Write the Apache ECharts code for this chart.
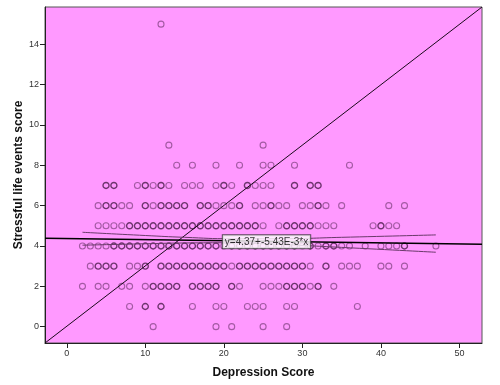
<!DOCTYPE html>
<html>
<head>
<meta charset="utf-8">
<script src="https://cdn.jsdelivr.net/npm/echarts@6/dist/echarts.min.js"></script>
<style>html,body{margin:0;padding:0;background:#fff}#c{width:500px;height:385px}</style>
</head>
<body>
<div id="c"></div>
<script>
// Axis ranges and ticks
const xMin = -2.77, xMax = 52.87;
const yMin = -0.81, yMax = 15.85;
const xTicks = [0, 10, 20, 30, 40, 50];
const yTicks = [0, 2, 4, 6, 8, 10, 12, 14];

// Depression score (x) of each observation, grouped by stressful life events score (y)
const rowY = [0, 1, 2, 3, 4, 5, 6, 7, 8, 9, 15];
const rowX = [
  [11, 19, 21, 25, 28],
  [8, 10, 12, 16, 19, 20, 23, 24, 25, 28, 29, 37],
  [2, 4, 5, 7, 8, 10, 11, 12, 13, 14, 16, 17, 18, 19, 21, 22, 25, 26, 27, 28, 29, 30, 31, 32, 34],
  [3, 4, 5, 6, 8, 9, 10, 12, 13, 14, 15, 16, 17, 18, 19, 20, 21, 22, 23, 24, 25, 26, 27, 28, 29, 30, 31, 33, 35, 36, 37, 40, 41, 43],
  [2, 3, 4, 5, 6, 7, 8, 9, 10, 11, 12, 13, 14, 15, 16, 17, 18, 19, 20, 21, 22, 23, 24, 25, 26, 27, 28, 29, 30, 31, 32, 33, 34, 35, 36, 38, 40, 41, 42, 43, 47],
  [4, 5, 6, 7, 8, 9, 10, 11, 12, 13, 14, 15, 16, 17, 18, 19, 20, 21, 22, 23, 24, 25, 27, 28, 29, 30, 31, 32, 33, 34, 39, 40, 41, 42],
  [4, 5, 6, 7, 8, 10, 11, 12, 13, 14, 15, 17, 18, 19, 20, 21, 22, 24, 25, 26, 27, 28, 30, 31, 32, 33, 35, 41, 43],
  [5, 6, 9, 10, 11, 12, 13, 15, 16, 17, 19, 20, 21, 23, 24, 25, 26, 29, 31, 32],
  [14, 16, 19, 22, 25, 26, 29, 36],
  [13, 25],
  [12]
];
// x positions with several overlapping observations (drawn darker)
const rowHeavy = [
  [],
  [10, 12],
  [11, 12, 13, 14, 16, 17, 18, 19, 21, 28, 29, 30, 32],
  [4, 5, 6, 10, 12, 13, 14, 15, 16, 17, 18, 19, 20, 22, 23, 24, 25, 26, 27, 28, 29, 30, 33],
  [6, 7, 8, 9, 10, 11, 12, 13, 14, 15, 16, 17, 18, 19, 21, 22, 23, 24, 25, 26, 27, 28, 29, 31, 33, 34, 43],
  [8, 9, 10, 11, 12, 13, 14, 15, 16, 17, 18, 19, 20, 21, 22, 23, 24, 28, 29, 30, 31, 40],
  [5, 6, 10, 12, 13, 14, 15, 17, 18, 22, 26, 32],
  [5, 6, 10, 12, 20, 23, 29, 31, 32],
  [],
  [],
  []
];

// Fit line and mean confidence band
const regIntercept = 4.37, regSlope = -5.43e-3;
const fitLabel = 'y=4.37+-5.43E-3*x';
const bandX = [2, 10, 15, 21, 27, 35, 47];
const bandUpper = [4.68, 4.52, 4.43, 4.36, 4.36, 4.43, 4.55];
const bandLower = [4.04, 4.11, 4.15, 4.16, 4.08, 3.93, 3.69];

const light = [], heavy = [];
rowY.forEach((y, i) => {
  rowX[i].forEach(x => {
    (rowHeavy[i].indexOf(x) >= 0 ? heavy : light).push([x, y]);
  });
});

const chart = echarts.init(document.getElementById('c'), null, {renderer: 'canvas'});
const axisCommon = {
  axisLine: {show: true, onZero: false, lineStyle: {color: '#222', width: 1}},
  axisTick: {show: true, length: 5, inside: false, lineStyle: {color: '#222'}},
  splitLine: {show: false},
  axisLabel: {color: '#333', fontSize: 9, fontFamily: 'Liberation Sans, Arial'},
  nameMoveOverlap: false,
  nameTextStyle: {color: '#111', fontSize: 12, fontWeight: 'bold', fontFamily: 'Liberation Sans, Arial'}
};
chart.setOption({
  animation: false,
  backgroundColor: '#ffffff',
  grid: {left: 45, top: 7, right: 18, bottom: 42, show: true, backgroundColor: '#ff99ff', borderColor: '#555', borderWidth: 1},
  xAxis: Object.assign({}, axisCommon, {
    type: 'value', min: xMin, max: xMax,
    name: 'Depression Score', nameLocation: 'middle', nameGap: 24,
    axisTick: Object.assign({}, axisCommon.axisTick, {customValues: xTicks}),
    axisLabel: Object.assign({}, axisCommon.axisLabel, {customValues: xTicks, margin: 6, formatter: v => String(v)})
  }),
  yAxis: Object.assign({}, axisCommon, {
    type: 'value', min: yMin, max: yMax,
    name: 'Stressful life events score', nameLocation: 'middle', nameGap: 20,
    axisTick: Object.assign({}, axisCommon.axisTick, {customValues: yTicks}),
    axisLabel: Object.assign({}, axisCommon.axisLabel, {customValues: yTicks, margin: 6, formatter: v => String(v)})
  }),
  series: [
    {type: 'scatter', data: light, symbol: 'circle', symbolSize: 6, z: 2,
     itemStyle: {color: 'rgba(0,0,0,0)', borderColor: '#8c4a8c', borderWidth: 1.1}},
    {type: 'scatter', data: heavy, symbol: 'circle', symbolSize: 6, z: 2,
     itemStyle: {color: 'rgba(0,0,0,0)', borderColor: '#4a1c4a', borderWidth: 1.4}},
    {type: 'line', data: [[xMin, yMin], [xMax, yMax]], symbol: 'none', z: 3,
     lineStyle: {color: '#1a0a1a', width: 1}},
    {type: 'line', data: bandX.map((x, i) => [x, bandUpper[i]]), symbol: 'none', smooth: true, z: 3,
     lineStyle: {color: '#6a3a6a', width: 1}},
    {type: 'line', data: bandX.map((x, i) => [x, bandLower[i]]), symbol: 'none', smooth: true, z: 3,
     lineStyle: {color: '#6a3a6a', width: 1}},
    {type: 'line', data: [[xMin, regIntercept + regSlope * xMin], [xMax, regIntercept + regSlope * xMax]], symbol: 'none', z: 4,
     lineStyle: {color: '#000', width: 1.6}},
    {type: 'scatter', data: [[19.87, 4.21]], symbolSize: 0, z: 5, silent: true,
     label: {show: true, position: 'right', distance: 0, formatter: fitLabel,
       color: '#000', fontSize: 10, fontFamily: 'Liberation Sans, Arial',
       backgroundColor: '#fff', borderColor: '#333', borderWidth: 1, padding: [2, 2, 1, 2]}}
  ]
});
</script>
</body>
</html>
